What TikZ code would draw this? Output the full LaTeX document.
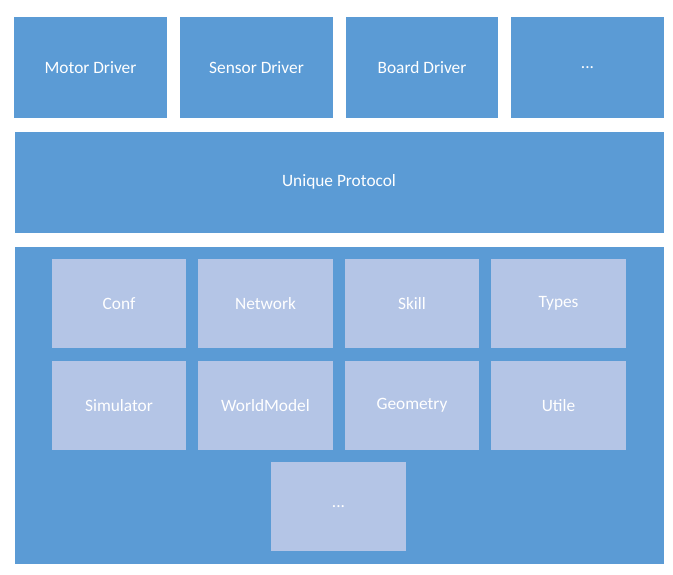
\documentclass[tikz,border=0pt]{standalone}
\usepackage{fontspec}
\setmainfont{Carlito}
\usetikzlibrary{positioning}
\definecolor{layerblue}{HTML}{5B9BD5}
\definecolor{modblue}{HTML}{B4C5E6}
\begin{document}
\begin{tikzpicture}[x=0.75pt, y=-0.75pt,
        layer/.style={rectangle, draw=white, line width=0.6pt, fill=layerblue, text=white, inner sep=0pt, font=\fontsize{13}{15}\selectfont},
        driver/.style={layer, minimum width=115pt, minimum height=76pt},
        module/.style={rectangle, draw=none, fill=modblue, text=white, inner sep=0pt, minimum width=101pt, minimum height=67pt, font=\fontsize{13}{15}\selectfont}
    ]
        \useasboundingbox[fill=white] (0,0) rectangle (673,574);
        % Drivers
        \node[driver] (motor) at (90.5,67.5) {Motor Driver};
        \node[driver] (sensor) at (256.5,67.5) {Sensor Driver};
        \node[driver] (board) at (422,67.5) {Board Driver};
        \node[driver] (moredrv) at (587.5,67.5) {...};
        
        % Protocol
        \node[layer, minimum width=487.5pt, minimum height=76.5pt] (protocol) at (339,182) {Unique Protocol};
        
        % Core
        \node[layer, minimum width=487.5pt, minimum height=239pt] (core) at (339,405.5) {};
        \node[module] (conf) at (119,303.5) {Conf};
        \node[module] (network) at (265.5,303.5) {Network};
        \node[module] (skill) at (412,303.5) {Skill};
        \node[module] (types) at (558.5,303.5) {Types};
        \node[module] (simulator) at (119,405.5) {Simulator};
        \node[module] (worldmodel) at (265.5,405.5) {WorldModel};
        \node[module] (geometry) at (412,405.5) {Geometry};
        \node[module] (utile) at (558.5,405.5) {Utile};
        \node[module] (moremod) at (338.5,506.5) {...};
    \end{tikzpicture}
\end{document}
